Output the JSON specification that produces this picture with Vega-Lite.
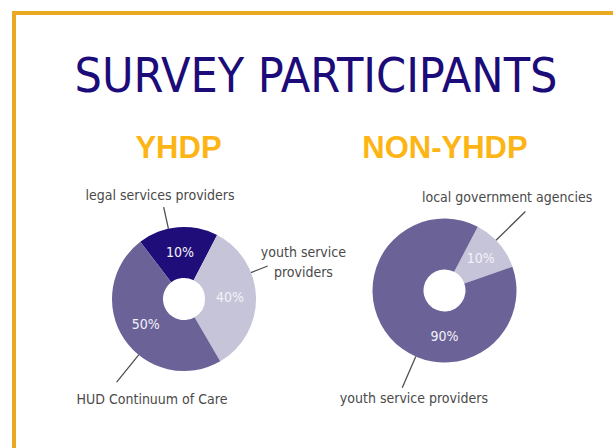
{
  "$schema": "https://vega.github.io/schema/vega-lite/v6.json",
  "width": 604,
  "height": 440,
  "autosize": {"type": "none"},
  "padding": {"left": 14, "top": 13, "right": -5, "bottom": -5},
  "background": "white",
  "title": {
    "text": "SURVEY PARTICIPANTS",
    "font": "DejaVu Sans Condensed, sans-serif",
    "fontSize": 48,
    "fontWeight": "normal",
    "color": "#1B0C7A",
    "anchor": "middle",
    "frame": "group",
    "baseline": "alphabetic",
    "offset": -127
  },
  "view": {"stroke": "#E9A923", "strokeWidth": 4},
  "data": {
    "values": [
      {"group": "YHDP", "category": "legal services providers", "share": 18, "pct": "10%", "label": "legal services providers"},
      {"group": "YHDP", "category": "youth service providers", "share": 34, "pct": "40%", "label": "youth service\nproviders"},
      {"group": "YHDP", "category": "HUD Continuum of Care", "share": 48, "pct": "50%", "label": "HUD Continuum of Care"},
      {"group": "NON-YHDP", "category": "local government agencies", "share": 12, "pct": "10%", "label": "local government agencies"},
      {"group": "NON-YHDP", "category": "youth service providers", "share": 88, "pct": "90%", "label": "youth service providers"}
    ]
  },
  "transform": [
    {"stack": "share", "groupby": ["group"], "sort": [{"field": "category", "order": "ascending"}], "as": ["t0", "t1"]}
  ],
  "encoding": {
    "x": {
      "field": "group",
      "type": "nominal",
      "scale": {"type": "point", "domain": ["YHDP", "NON-YHDP"], "range": [170, 430.5], "padding": 0},
      "axis": {
        "orient": "top",
        "offset": -144,
        "domain": false,
        "ticks": false,
        "tickSize": 0,
        "grid": false,
        "title": null,
        "labelFont": "Liberation Sans, Arial, sans-serif",
        "labelFontSize": 31,
        "labelFontWeight": "bold",
        "labelColor": "#FDB515",
        "labelPadding": 0,
        "labelBaseline": "alphabetic",
        "labelAngle": 0,
        "labelOffset": {"condition": {"test": "datum.value === 'YHDP'", "value": -6}, "value": 0},
        "labelFlush": false,
        "labelOverlap": false,
        "labelBound": false
      }
    },
    "y": {
      "field": "group",
      "type": "nominal",
      "scale": {"type": "point", "domain": ["NON-YHDP", "YHDP"], "range": [277.5, 286], "padding": 0},
      "axis": null
    }
  },
  "layer": [
    {
      "transform": [{"filter": "datum.group === 'YHDP'"}],
      "encoding": {
        "theta": {"field": "share", "type": "quantitative", "stack": true, "scale": {"domain": [0, 100], "range": [2.6145, 8.8977]}},
        "order": {"field": "category", "sort": "ascending"}
      },
      "layer": [
        {
          "mark": {"type": "arc", "outerRadius": 72, "innerRadius": 21},
          "encoding": {
            "color": {
              "field": "category",
              "type": "nominal",
              "scale": {
                "domain": ["HUD Continuum of Care", "legal services providers", "youth service providers"],
                "range": ["#6B6398", "#1F0E79", "#C6C4D8"]
              },
              "legend": null
            }
          }
        },
        {
          "mark": {"type": "text", "radius": 46, "font": "DejaVu Sans Condensed, sans-serif", "fontSize": 14, "color": "#F3F2F8", "align": "center", "baseline": "middle"},
          "encoding": {"text": {"field": "pct", "type": "nominal"}}
        },
        {
          "mark": {"type": "text", "radius": 106, "thetaOffset": -0.141, "font": "DejaVu Sans Condensed, sans-serif", "fontSize": 14, "color": "#4A4A4A", "align": "center", "baseline": "middle", "lineBreak": "\n", "lineHeight": 20},
          "encoding": {"text": {"condition": {"test": "datum.category === 'legal services providers'", "field": "label", "type": "nominal"}, "value": ""}}
        },
        {
          "mark": {"type": "text", "radius": 128, "thetaOffset": -0.344, "font": "DejaVu Sans Condensed, sans-serif", "fontSize": 14, "color": "#4A4A4A", "align": "center", "baseline": "middle", "lineBreak": "\n", "lineHeight": 20},
          "encoding": {"text": {"condition": {"test": "datum.category === 'youth service providers'", "field": "label", "type": "nominal"}, "value": ""}}
        },
        {
          "mark": {"type": "text", "radius": 106, "thetaOffset": -0.674, "font": "DejaVu Sans Condensed, sans-serif", "fontSize": 14, "color": "#4A4A4A", "align": "center", "baseline": "middle", "lineBreak": "\n", "lineHeight": 20},
          "encoding": {"text": {"condition": {"test": "datum.category === 'HUD Continuum of Care'", "field": "label", "type": "nominal"}, "value": ""}}
        },
        {
          "mark": {"type": "arc", "outerRadius": 94, "innerRadius": 72, "filled": false, "stroke": "#505050", "strokeWidth": 1.3},
          "encoding": {
            "theta": {"field": "t0", "type": "quantitative", "scale": {"domain": [0, 100], "range": [3.0491, 9.3323]}},
            "theta2": {"field": "t0"},
            "strokeOpacity": {"condition": {"test": "datum.category === 'legal services providers'", "value": 1}, "value": 0}
          }
        },
        {
          "mark": {"type": "arc", "outerRadius": 90, "innerRadius": 72, "filled": false, "stroke": "#505050", "strokeWidth": 1.3},
          "encoding": {
            "theta": {"field": "t0", "type": "quantitative", "scale": {"domain": [0, 100], "range": [3.3318, 9.615]}},
            "theta2": {"field": "t0"},
            "strokeOpacity": {"condition": {"test": "datum.category === 'youth service providers'", "value": 1}, "value": 0}
          }
        },
        {
          "mark": {"type": "arc", "outerRadius": 107, "innerRadius": 72, "filled": false, "stroke": "#505050", "strokeWidth": 1.3},
          "encoding": {
            "theta": {"field": "t0", "type": "quantitative", "scale": {"domain": [0, 100], "range": [3.8223, 10.1055]}},
            "theta2": {"field": "t0"},
            "strokeOpacity": {"condition": {"test": "datum.category === 'HUD Continuum of Care'", "value": 1}, "value": 0}
          }
        }
      ],
      "resolve": {"scale": {"theta": "independent"}}
    },
    {
      "transform": [{"filter": "datum.group === 'NON-YHDP'"}],
      "encoding": {
        "theta": {"field": "share", "type": "quantitative", "stack": true, "scale": {"domain": [0, 100], "range": [0.48, 6.7632]}},
        "order": {"field": "category", "sort": "ascending"}
      },
      "layer": [
        {
          "mark": {"type": "arc", "outerRadius": 72, "innerRadius": 21},
          "encoding": {
            "color": {
              "field": "category",
              "type": "nominal",
              "scale": {
                "domain": ["local government agencies", "youth service providers"],
                "range": ["#C6C4D8", "#6B6398"]
              },
              "legend": null
            }
          }
        },
        {
          "mark": {"type": "text", "radius": 48, "font": "DejaVu Sans Condensed, sans-serif", "fontSize": 14, "color": "#F3F2F8", "align": "center", "baseline": "middle"},
          "encoding": {"text": {"condition": {"test": "datum.category === 'local government agencies'", "field": "pct", "type": "nominal"}, "value": ""}}
        },
        {
          "mark": {"type": "text", "radius": 46, "thetaOffset": -0.857, "font": "DejaVu Sans Condensed, sans-serif", "fontSize": 14, "color": "#F3F2F8", "align": "center", "baseline": "middle"},
          "encoding": {"text": {"condition": {"test": "datum.category === 'youth service providers'", "field": "pct", "type": "nominal"}, "value": ""}}
        },
        {
          "mark": {"type": "text", "radius": 112, "thetaOffset": -0.264, "font": "DejaVu Sans Condensed, sans-serif", "fontSize": 14, "color": "#4A4A4A", "align": "center", "baseline": "middle"},
          "encoding": {"text": {"condition": {"test": "datum.category === 'local government agencies'", "field": "label", "type": "nominal"}, "value": ""}}
        },
        {
          "mark": {"type": "text", "radius": 113, "thetaOffset": -0.583, "font": "DejaVu Sans Condensed, sans-serif", "fontSize": 14, "color": "#4A4A4A", "align": "center", "baseline": "middle"},
          "encoding": {"text": {"condition": {"test": "datum.category === 'youth service providers'", "field": "label", "type": "nominal"}, "value": ""}}
        },
        {
          "mark": {"type": "arc", "outerRadius": 113, "innerRadius": 72, "filled": false, "stroke": "#505050", "strokeWidth": 1.3},
          "encoding": {
            "theta": {"field": "t0", "type": "quantitative", "scale": {"domain": [0, 100], "range": [0.7976, 7.0808]}},
            "theta2": {"field": "t0"},
            "strokeOpacity": {"condition": {"test": "datum.category === 'local government agencies'", "value": 1}, "value": 0}
          }
        },
        {
          "mark": {"type": "arc", "outerRadius": 106, "innerRadius": 72, "filled": false, "stroke": "#505050", "strokeWidth": 1.3},
          "encoding": {
            "theta": {"field": "t0", "type": "quantitative", "scale": {"domain": [0, 100], "range": [2.7978, 9.081]}},
            "theta2": {"field": "t0"},
            "strokeOpacity": {"condition": {"test": "datum.category === 'youth service providers'", "value": 1}, "value": 0}
          }
        }
      ],
      "resolve": {"scale": {"theta": "independent"}}
    }
  ],
  "resolve": {"scale": {"theta": "independent", "color": "independent"}}
}
